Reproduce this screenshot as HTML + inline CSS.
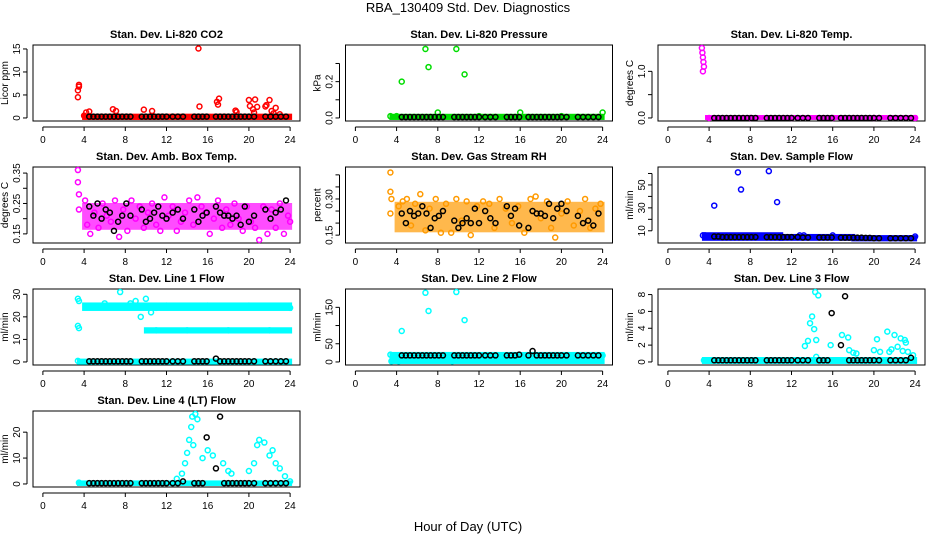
<!DOCTYPE html>
<html><head><meta charset="utf-8"><style>
body{margin:0;background:#fff}
svg{display:block;font-family:"Liberation Sans",sans-serif}
</style></head><body>
<svg id="chart" width="936" height="540">
<text x="468" y="12" text-anchor="middle" font-size="13">RBA_130409  Std. Dev. Diagnostics</text>
<text x="468" y="531" text-anchor="middle" font-size="13">Hour of Day (UTC)</text>
</svg>
<script>
const blackX=[4.5,4.9,5.3,5.7,6.1,6.5,6.9,7.3,7.7,8.1,8.5,9.6,10.0,10.4,10.8,11.2,11.6,12.0,12.6,13.1,13.6,14.7,15.1,15.5,15.9,16.8,17.2,17.6,18.0,18.4,18.8,19.2,19.6,20.0,20.5,21.6,22.1,22.6,23.1,23.6];
const xTicks=[0,4,8,12,16,20,24];

const co2X=[3.4,3.4,3.5,3.5,4.0,4.2,4.5,6.8,7.1,9.8,10.6,15.1,15.2,16.9,17.0,17.1,18.7,18.8,20.0,20.1,20.4,20.6,20.8,20.5,21.6,21.7,22.0,22.2,22.6,22.4,23.0];
const co2Y=[4.5,6.0,6.8,7.2,0.5,1.2,1.4,1.9,1.5,1.8,1.5,15.1,2.5,3.5,2.9,4.2,1.6,1.3,3.9,2.6,1.9,4.0,2.4,1.2,2.5,2.8,3.9,1.5,2.2,1.0,0.8];
const co2Black=[0.3,0.3,0.3,0.3,0.3,0.3,0.3,0.3,0.3,0.3,0.3,0.3,0.3,0.3,0.3,0.3,0.3,0.3,0.3,0.3,0.3,0.3,0.3,0.3,0.3,0.3,0.3,0.3,0.3,0.3,0.3,0.3,0.3,0.3,0.3,0.3,0.3,0.3,0.3,0.3];

const presX=[3.4,4.5,6.8,7.1,9.8,10.6,8.0,16.0,24.0,4.0,12.0,20.0];
const presY=[0.01,0.2,0.38,0.28,0.38,0.24,0.03,0.03,0.03,0.01,0.01,0.01];
const presBlack=[0.005,0.005,0.005,0.005,0.005,0.005,0.005,0.005,0.005,0.005,0.005,0.005,0.005,0.005,0.005,0.005,0.005,0.005,0.005,0.005,0.005,0.005,0.005,0.005,0.005,0.005,0.005,0.005,0.005,0.005,0.005,0.005,0.005,0.005,0.005,0.005,0.005,0.005,0.005,0.005];

const tempX=[3.3,3.35,3.4,3.45,3.5,3.4,4.0,8.0,12.0,16.0,20.0,24.0];
const tempY=[1.5,1.4,1.3,1.2,1.1,1.0,0.0,0.0,0.0,0.0,0.0,0.0];
const tempBlack=[0,0,0,0,0,0,0,0,0,0,0,0,0,0,0,0,0,0,0,0,0,0,0,0,0,0,0,0,0,0,0,0,0,0,0,0,0,0,0,0];

const ambX=[3.4,3.4,3.5,3.5,4.1,4.3,4.6,5.0,5.4,5.8,6.2,6.6,7.0,7.4,7.8,8.2,8.6,9.0,9.4,9.8,10.2,10.6,11.0,11.4,11.8,12.2,12.6,13.0,13.4,13.8,14.2,14.6,15.0,15.4,15.8,16.2,16.6,17.0,17.4,17.8,18.2,18.6,19.0,19.4,19.8,20.2,20.6,21.0,21.4,21.8,22.2,22.6,23.0,23.4,23.8,24.0];
const ambY=[0.36,0.32,0.28,0.23,0.26,0.18,0.15,0.22,0.17,0.25,0.21,0.19,0.26,0.14,0.23,0.16,0.26,0.2,0.24,0.17,0.22,0.25,0.18,0.16,0.27,0.21,0.24,0.16,0.19,0.22,0.26,0.18,0.27,0.24,0.22,0.15,0.2,0.26,0.17,0.23,0.18,0.25,0.2,0.16,0.24,0.19,0.17,0.13,0.24,0.15,0.23,0.17,0.25,0.15,0.21,0.19];
const ambBlack=[0.24,0.21,0.25,0.2,0.23,0.22,0.16,0.19,0.21,0.25,0.21,0.23,0.19,0.2,0.22,0.24,0.21,0.2,0.22,0.23,0.2,0.23,0.19,0.21,0.22,0.24,0.22,0.21,0.21,0.2,0.21,0.18,0.24,0.19,0.21,0.23,0.2,0.22,0.23,0.26];

const rhX=[3.4,3.4,3.5,3.4,4.2,4.6,5.0,5.4,5.8,6.3,6.8,7.2,7.8,8.3,8.8,9.3,9.8,10.3,10.8,11.2,11.8,12.4,13.0,13.5,14.0,14.6,15.2,15.8,16.4,17.0,17.5,18.0,18.6,19.0,19.4,20.0,20.6,21.2,21.8,22.3,22.8,23.3,23.8];
const rhY=[0.41,0.33,0.3,0.24,0.27,0.29,0.3,0.19,0.28,0.32,0.17,0.26,0.3,0.16,0.28,0.16,0.3,0.21,0.29,0.15,0.27,0.29,0.28,0.18,0.3,0.26,0.2,0.27,0.16,0.3,0.31,0.22,0.29,0.18,0.14,0.24,0.29,0.19,0.25,0.3,0.18,0.26,0.28];
const rhBlack=[0.24,0.2,0.25,0.23,0.24,0.27,0.24,0.18,0.22,0.23,0.25,0.21,0.18,0.2,0.22,0.2,0.26,0.2,0.25,0.22,0.2,0.27,0.23,0.26,0.19,0.18,0.25,0.24,0.24,0.23,0.28,0.22,0.26,0.28,0.25,0.23,0.2,0.21,0.19,0.24];

const sfX=[3.4,3.6,4.5,6.8,7.1,9.8,10.6,12.8,13.2,16.0,24.0];
const sfY=[6,6,32,61,46,62,35,6,6,6,5];
const sfBlack=[5,5,4.5,4.5,4.5,4.5,4.5,4.5,4.5,4.5,4.5,4.5,4.5,4.5,4.5,4.5,4.5,4.5,4.5,4.2,4.2,4.2,4.2,4.2,4.2,4,4,4,4,4,4,3.8,3.8,3.5,3.5,3.5,3.5,3.5,3.5,3.5];

const l1X=[3.4,3.4,3.5,3.5,7.5,9.0,10.0,10.5,11.0,9.5,8.5,6.0,12.0,16.0,20.0,24.0,11.0,14.0,18.0,22.0,3.4];
const l1Y=[28,16,15,27,31,27,28,22,24,20,26,26,25,25,25,24,14,14,14,14,0.5];
const l1Black=[0.3,0.3,0.3,0.3,0.3,0.3,0.3,0.3,0.3,0.3,0.3,0.3,0.3,0.3,0.3,0.3,0.3,0.3,0.3,0.3,0.3,0.3,0.3,0.3,0.3,1.5,0.3,0.3,0.3,0.3,0.3,0.3,0.3,0.3,0.3,0.3,0.3,0.3,0.3,0.3];

const l2X=[3.4,3.5,4.5,6.8,7.1,9.8,10.6,4.2,9.4,8.0,12.0,16.0,20.0,24.0];
const l2Y=[20,2,85,190,140,192,115,2,2,18,18,18,18,18];
const l2Black=[18,18,18,18,18,18,18,18,18,18,18,18,18,18,18,18,18,18,18,18,18,18,18,18,20,18,30,18,18,18,18,18,18,18,18,18,18,18,18,18];

const l3X=[13.3,13.6,13.8,14.0,14.2,14.4,14.3,14.6,14.4,15.8,16.9,17.5,17.6,18.0,18.3,20.0,20.3,20.6,21.3,21.5,21.7,22.0,22.3,22.6,22.8,23.0,23.1,23.3,23.8,3.5];
const l3Y=[1.9,2.5,4.6,5.4,3.9,2.6,8.3,7.9,0.6,2.0,3.2,2.9,1.4,1.1,1.0,1.4,2.7,1.2,3.6,1.2,1.5,3.2,1.8,2.8,1.3,2.6,2.3,1.2,0.8,0.2];
const l3Black=[0.2,0.2,0.2,0.2,0.2,0.2,0.2,0.2,0.2,0.2,0.2,0.2,0.2,0.2,0.2,0.2,0.2,0.2,0.2,0.2,0.2,0.2,0.2,0.2,5.8,2.0,7.8,0.2,0.2,0.2,0.2,0.2,0.2,0.2,0.2,0.2,0.2,0.2,0.2,0.5];

const l4X=[13.0,13.5,13.8,14.0,14.2,14.4,14.5,14.8,15.0,14.6,15.5,16.0,16.5,17.5,18.0,18.3,20.0,20.5,20.8,21.0,21.5,22.0,22.3,22.6,23.0,23.5,24.0,3.5];
const l4Y=[2,4,8,12,17,22,26,27,25,15,10,13,11,8,5,4,5,8,15,17,16,11,13,8,6,3,1,0.5];
const l4Black=[0.3,0.3,0.3,0.3,0.3,0.3,0.3,0.3,0.3,0.3,0.3,0.3,0.3,0.3,0.3,0.3,0.3,0.3,0.3,0.3,1,0.3,0.3,0.3,18,6,26,0.3,0.3,0.3,0.3,0.3,0.3,0.3,0.3,0.3,0.3,0.3,0.3,0.3];

// bands: [x0,x1,y0,y1] dense point clouds
const co2Band=[[4,24,0,0.5]], presBand=[[3.5,24,0,0.012]], tempBand=[[3.8,24,0,0.02]];
const ambBand=[[4,24,0.17,0.245]], rhBand=[[4,24,0.17,0.28]], sfBand=[[3.5,11,3,7],[11,18,3,5.5],[18,24,2.5,4.5]];
const l1Band=[[4,24,23.5,25.5],[10,24,13.5,14.5],[3.5,24,-0.3,0.6]], l2Band=[[3.5,24,0,22]], l3Band=[[3.5,24,0,0.35]], l4Band=[[3.5,24,0,0.6]];

const panels=[
 {t:"Stan. Dev. Li-820 CO2",yl:"Licor ppm",c:"#ff0000",op:1,ymin:0,ymax:15.2,yt:[0,5,10,15],ylab:[0,5,10,15],x:co2X,y:co2Y,k:co2Black,b:co2Band,n:"co2"},
 {t:"Stan. Dev. Li-820 Pressure",yl:"kPa",c:"#00dd00",op:1,ymin:0,ymax:0.385,yt:[0,0.1,0.2,0.3],ylab:["0.0",null,"0.2",null],x:presX,y:presY,k:presBlack,b:presBand,n:"pressure"},
 {t:"Stan. Dev. Li-820 Temp.",yl:"degrees C",c:"#ff00ff",op:1,ymin:0,ymax:1.5,yt:[0,0.5,1.0],ylab:["0.0",null,"1.0"],x:tempX,y:tempY,k:tempBlack,b:tempBand,n:"temp"},
 {t:"Stan. Dev. Amb. Box Temp.",yl:"degrees C",c:"#ff00ff",op:0.7,ymin:0.13,ymax:0.36,yt:[0.15,0.2,0.25,0.3,0.35],ylab:["0.15",null,"0.25",null,"0.35"],x:ambX,y:ambY,k:ambBlack,b:ambBand,n:"amb-temp"},
 {t:"Stan. Dev. Gas Stream RH",yl:"percent",c:"#ff9a00",op:0.7,ymin:0.13,ymax:0.42,yt:[0.15,0.2,0.25,0.3,0.35,0.4],ylab:["0.15",null,null,"0.30",null,null],x:rhX,y:rhY,k:rhBlack,b:rhBand,n:"rh"},
 {t:"Stan. Dev. Sample Flow",yl:"ml/min",c:"#0000ff",op:1,ymin:2,ymax:63,yt:[10,20,30,40,50,60],ylab:[10,null,30,null,50,null],x:sfX,y:sfY,k:sfBlack,b:sfBand,n:"sample-flow"},
 {t:"Stan. Dev. Line 1 Flow",yl:"ml/min",c:"#00ffff",op:1,ymin:0,ymax:31,yt:[0,10,20,30],ylab:[0,10,20,30],x:l1X,y:l1Y,k:l1Black,b:l1Band,n:"line1"},
 {t:"Stan. Dev. Line 2 Flow",yl:"ml/min",c:"#00ffff",op:1,ymin:0,ymax:192,yt:[0,50,100,150],ylab:[0,50,null,150],x:l2X,y:l2Y,k:l2Black,b:l2Band,n:"line2"},
 {t:"Stan. Dev. Line 3 Flow",yl:"ml/min",c:"#00ffff",op:1,ymin:0,ymax:8.3,yt:[0,2,4,6,8],ylab:[0,2,4,6,8],x:l3X,y:l3Y,k:l3Black,b:l3Band,n:"line3"},
 {t:"Stan. Dev. Line 4 (LT) Flow",yl:"ml/min",c:"#00ffff",op:1,ymin:0,ymax:27,yt:[0,10,20],ylab:[0,10,20],x:l4X,y:l4Y,k:l4Black,b:l4Band,n:"line4"}
];
const svg=document.getElementById('chart');
const NS="http://www.w3.org/2000/svg";
function mk(tag,at,parent){const e=document.createElementNS(NS,tag);for(const k in at)e.setAttribute(k,at[k]);(parent||svg).appendChild(e);return e;}
panels.forEach((p,i)=>{
 const col=i%3,row=Math.floor(i/3);
 const L=33+col*312.5,R=L+267,T=45+row*122,B=T+76;
 const g=mk('g',{});
 
 
 const xs=h=>L+(h+0.96)/25.92*(R-L);
 const ys=v=>B-((v-p.ymin)/(p.ymax-p.ymin)*0.92+0.04)*(B-T);
 const tt=mk('text',{x:(L+R)/2,y:T-7,'text-anchor':'middle','font-size':11,'font-weight':'bold'},g);tt.textContent=p.t;
 
 
 const box=mk('rect',{x:L,y:T,width:R-L,height:B-T,fill:'none',stroke:'#000','stroke-width':1},g);
 
 
 mk('line',{x1:xs(0),x2:xs(24),y1:B+6,y2:B+6,stroke:'#000'},g);
 xTicks.forEach(h=>{mk('line',{x1:xs(h),x2:xs(h),y1:B+6,y2:B+10,stroke:'#000'},g);
  const t=mk('text',{x:xs(h),y:B+22,'text-anchor':'middle','font-size':10},g);t.textContent=h;
  
  });
 mk('line',{x1:L-6,x2:L-6,y1:ys(p.yt[0]),y2:ys(p.yt[p.yt.length-1]),stroke:'#000'},g);
 p.yt.forEach((v,j)=>{mk('line',{x1:L-10,x2:L-6,y1:ys(v),y2:ys(v),stroke:'#000'},g);
  if(p.ylab[j]!==null){const t=mk('text',{x:L-13,y:ys(v),'text-anchor':'middle','font-size':10,transform:`rotate(-90 ${L-13} ${ys(v)})`},g);t.textContent=p.ylab[j];
  
  }});
 const yl=mk('text',{x:L-25,y:(T+B)/2,'text-anchor':'middle','font-size':10,transform:`rotate(-90 ${L-25} ${(T+B)/2})`},g);yl.textContent=p.yl;
 
 
 p.b.forEach(bd=>{const y0=ys(bd[2]),y1=ys(bd[3]);
  const r=mk('rect',{x:xs(bd[0])-2,y:y1-2,width:xs(bd[1])-xs(bd[0])+4,height:y0-y1+4,fill:p.c,'fill-opacity':p.op},g);
  
  });
 p.x.forEach((h,j)=>{const c=mk('circle',{cx:xs(h),cy:ys(p.y[j]),r:2.5,fill:'none',stroke:p.c,'stroke-width':1.5},g);
  
  });
 blackX.forEach((h,j)=>{const c=mk('circle',{cx:xs(h),cy:ys(p.k[j]),r:2.5,fill:'none',stroke:'#000','stroke-width':1.5},g);
  
  });
});
</script>
</body></html>
